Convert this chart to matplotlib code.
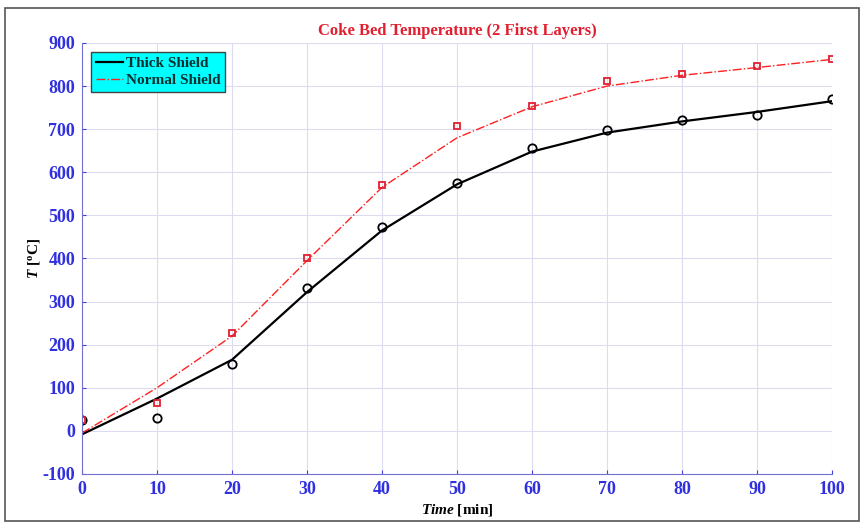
import matplotlib
matplotlib.use("Agg")
import matplotlib.pyplot as plt
from matplotlib.patches import Rectangle

# sampled times [min]
time = [0, 10, 20, 30, 40, 50, 60, 70, 80, 90, 100]

# measured points
thick_meas = [25, 30, 155, 331, 473, 575, 656, 698, 721, 733, 770]
normal_meas = [25, 65, 227, 401, 570, 707, 754, 812, 828, 847, 863]

# model curves
thick_fit = [-8, 75, 165, 322, 465, 572, 648, 692, 718, 740, 765]
normal_fit = [-5, 100, 220, 395, 565, 680, 752, 800, 825, 843, 862]

plt.rcParams['font.family'] = ['Liberation Serif', 'DejaVu Serif']
plt.rcParams['mathtext.fontset'] = 'custom'
plt.rcParams['mathtext.rm'] = 'Liberation Serif'
plt.rcParams['mathtext.it'] = 'Liberation Serif:italic:bold'
plt.rcParams['mathtext.bf'] = 'Liberation Serif:bold'
plt.rcParams['axes.unicode_minus'] = False

fig = plt.figure(figsize=(8.62, 5.28), dpi=100)
ax = fig.add_axes([0.0951, 0.1023, 0.8701, 0.8163])

# outer frame
fig.patches.append(Rectangle((0.006, 0.014), 0.99, 0.971, transform=fig.transFigure,
                             fill=False, edgecolor='#555555', lw=1.2))

ax.plot(time, thick_fit, '-', color='black', lw=1.6, label='Thick Shield')
ax.plot(time, normal_fit, '-.', color='#ff2020', lw=1.0, label='Normal Shield')
ax.plot(time, thick_meas, 'o', mfc='none', mec='black', ms=6, mew=1.3)
ax.plot(time, normal_meas, 's', mfc='none', mec='#e02030', ms=5, mew=1.3)

ax.set_xlim(0, 100)
ax.set_ylim(-100, 900)
ax.set_xticks(range(0, 101, 10))
ax.set_yticks(range(-100, 901, 100))
ax.grid(True, color='#dcdcf0', lw=0.8)
ax.tick_params(colors='#4040e0', labelsize=13, length=3, direction='in', pad=5)
for lbl in ax.get_xticklabels() + ax.get_yticklabels():
    lbl.set_fontweight('bold')
    lbl.set_color('#3030e0')
for s in ['left', 'bottom']:
    ax.spines[s].set_color('#7070d0')
for s in ['top', 'right']:
    ax.spines[s].set_visible(False)

ax.set_title('Coke Bed Temperature (2 First Layers)', color='#e02030',
             fontweight='bold', fontsize=12, pad=6)
ax.set_xlabel(r'$\it{Time}$ [min]', fontweight='bold', fontsize=11, labelpad=3)
ax.set_ylabel(r'$\it{T}$ [$^\mathbf{o}$C]', fontweight='bold', fontsize=11)
ax.yaxis.set_label_coords(-0.053, 0.5)

leg = ax.legend(loc='upper left', fontsize=11, frameon=True, fancybox=False,
                facecolor='cyan', edgecolor='#444444', framealpha=1,
                borderpad=0.3, handlelength=1.8, handletextpad=0.2, labelspacing=0.2,
                borderaxespad=0.6)
for t in leg.get_texts():
    t.set_fontweight('bold')
    t.set_color('#0a3030')

fig.savefig('out.png', dpi=100)
